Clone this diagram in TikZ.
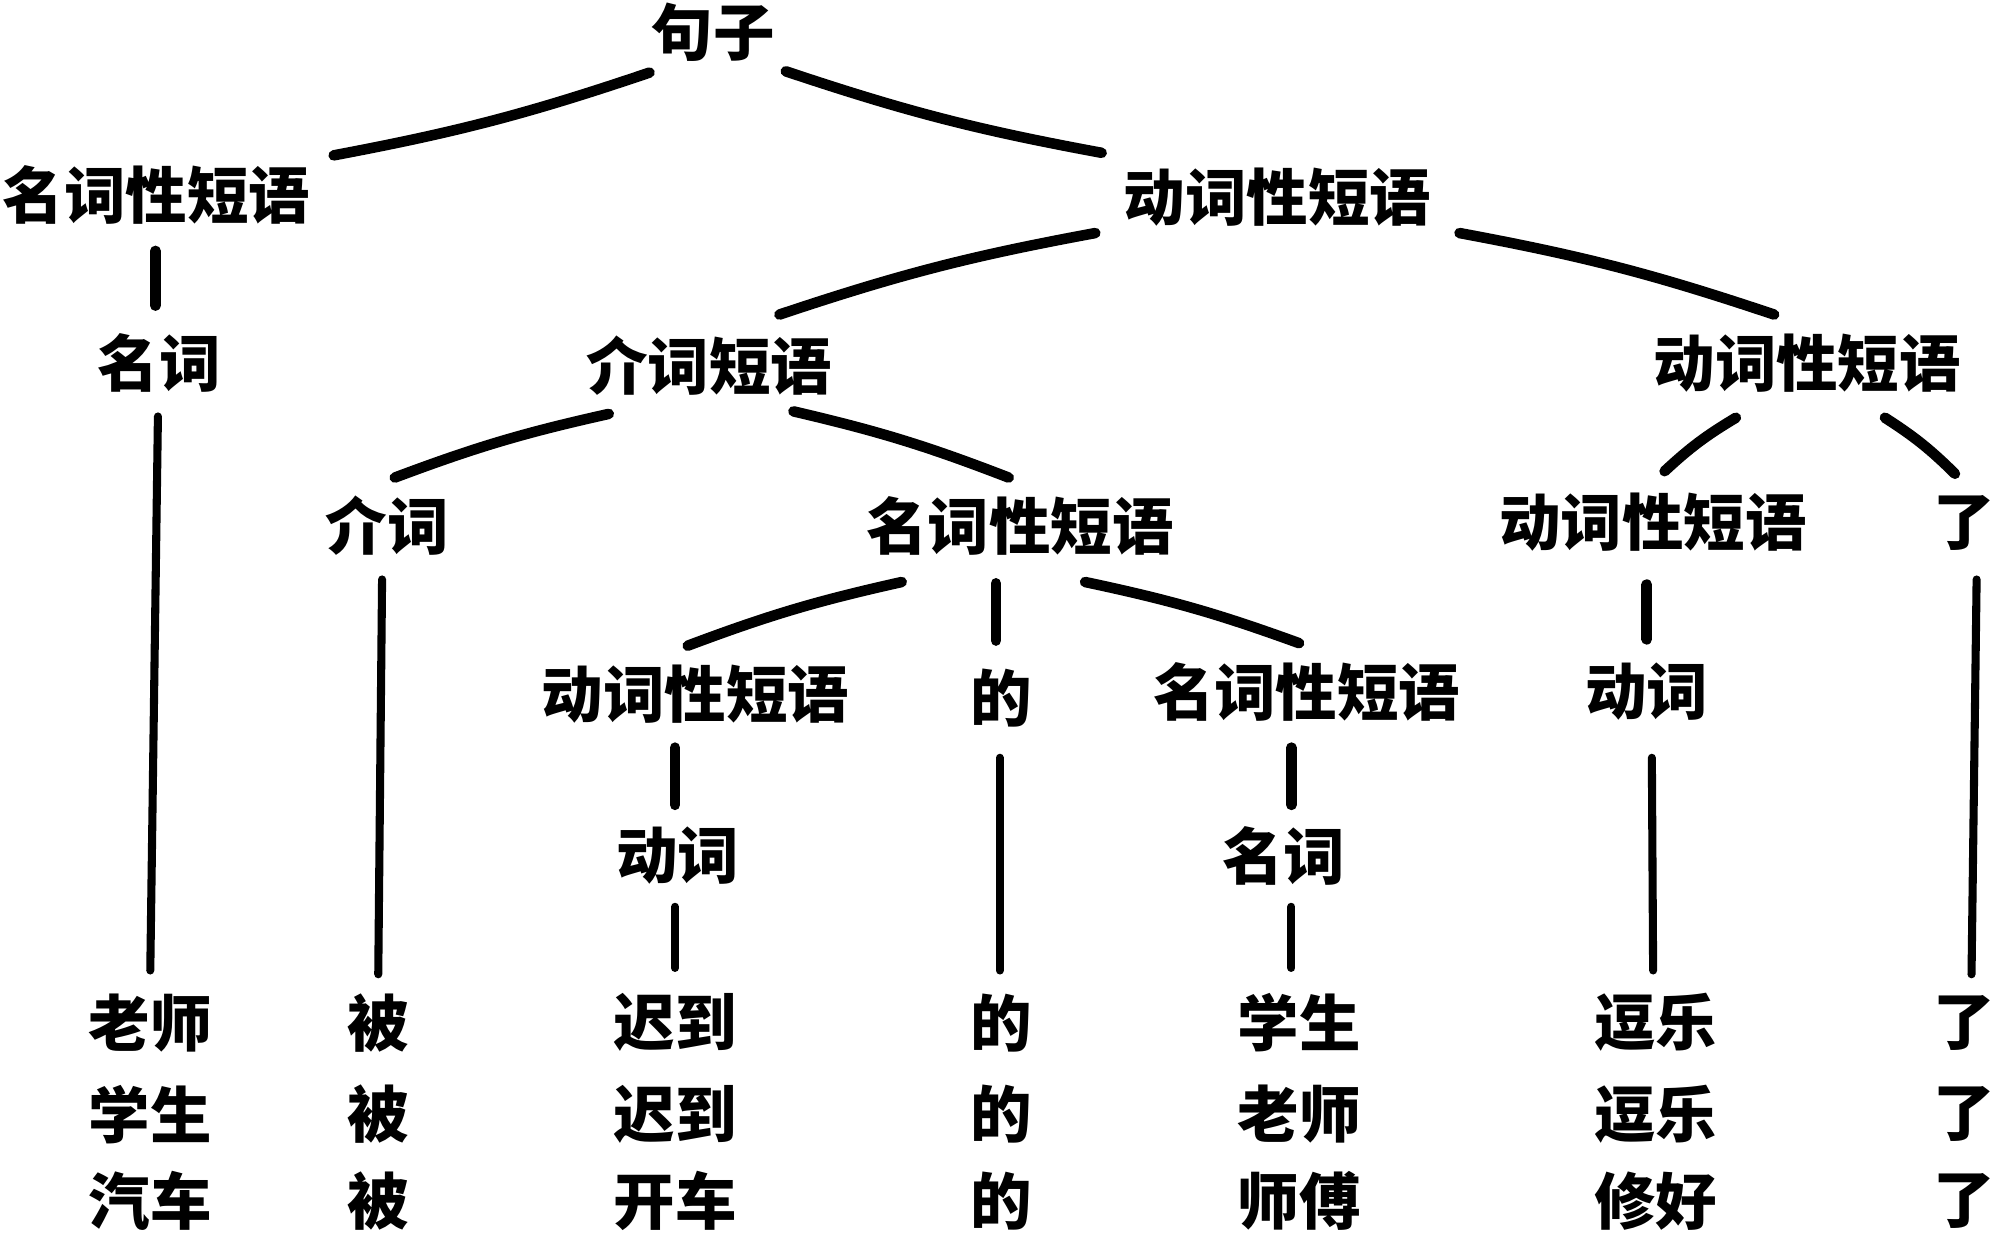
\documentclass[tikz,border=0pt]{standalone}
\usepackage{fontspec}
\setmainfont{Noto Sans CJK SC}
\usetikzlibrary{calc}
\begin{document}
\begin{tikzpicture}[x=0.012736cm,y=-0.012736cm,
  lab/.style={font=\fontsize{17.5}{20}\selectfont\bfseries, inner sep=0pt},
  br/.style={line width=3pt, line cap=round},
  vt/.style={line width=2.3pt, line cap=round}]
\useasboundingbox[fill=white] (0,0) rectangle (1568,973);
% internal nodes
\node[lab] (s)   at (560,25)  {句子};
\node[lab] (np1) at (123,153) {名词性短语};
\node[lab] (vp1) at (1003,155) {动词性短语};
\node[lab] (n1)  at (125,285) {名词};
\node[lab] (pp)  at (557,287) {介词短语};
\node[lab] (vp2) at (1419,285) {动词性短语};
\node[lab] (p)   at (304,413) {介词};
\node[lab] (np2) at (801,413) {名词性短语};
\node[lab] (vp3) at (1298,410) {动词性短语};
\node[lab] (le)  at (1542,411) {了};
\node[lab] (vp4) at (546,545) {动词性短语};
\node[lab] (de)  at (786,548) {的};
\node[lab] (np3) at (1026,543) {名词性短语};
\node[lab] (v1)  at (1293,543) {动词};
\node[lab] (v2)  at (532,672) {动词};
\node[lab] (n2)  at (1008,672) {名词};
% leaves
\node[lab] (a1) at (118,803) {老师};
\node[lab] (a2) at (118,875) {学生};
\node[lab] (a3) at (118,943) {汽车};
\node[lab] (b1) at (297,803) {被};
\node[lab] (b2) at (297,875) {被};
\node[lab] (b3) at (297,943) {被};
\node[lab] (c1) at (530,803) {迟到};
\node[lab] (c2) at (530,875) {迟到};
\node[lab] (c3) at (530,943) {开车};
\node[lab] (d1) at (786,803) {的};
\node[lab] (d2) at (786,875) {的};
\node[lab] (d3) at (786,943) {的};
\node[lab] (e1) at (1020,803) {学生};
\node[lab] (e2) at (1020,875) {老师};
\node[lab] (e3) at (1020,943) {师傅};
\node[lab] (f1) at (1300,803) {逗乐};
\node[lab] (f2) at (1300,875) {逗乐};
\node[lab] (f3) at (1300,943) {修好};
\node[lab] (g1) at (1542,803) {了};
\node[lab] (g2) at (1542,875) {了};
\node[lab] (g3) at (1542,943) {了};
% edges
\draw[br] ($(s)+(-50,32)$) to[bend left=4] ($(np1)+(139,-31)$);
\draw[br] ($(s)+(57,31)$) to[bend right=4] ($(vp1)+(-138,-35)$);
\draw[br] ($(np1)+(-1,44)$) -- ($(n1)+(-3,-45)$);
\draw[br] ($(vp1)+(-143,28)$) to[bend right=4] ($(pp)+(55,-40)$);
\draw[br] ($(vp1)+(143,28)$) to[bend left=4] ($(vp2)+(-26,-38)$);
\draw[vt] ($(n1)+(-1,42)$) -- ($(a1)+(0,-41)$);
\draw[br] ($(pp)+(-79,38)$) to[bend right=4] ($(p)+(6,-38)$);
\draw[br] ($(pp)+(66,36)$) to[bend left=4] ($(np2)+(-9,-38)$);
\draw[br] ($(vp2)+(-56,43)$) to[bend right=6] ($(vp3)+(9,-40)$);
\draw[br] ($(vp2)+(61,43)$) to[bend left=6] ($(le)+(-7,-39)$);
\draw[vt] ($(p)+(-4,42)$) -- ($(b1)+(0,-38)$);
\draw[br] ($(np2)+(-93,44)$) to[bend right=4] ($(vp4)+(-6,-38)$);
\draw[br] ($(np2)+(-19,45)$) -- ($(de)+(-4,-45)$);
\draw[br] ($(np2)+(51,44)$) to[bend left=4] ($(np3)+(-6,-38)$);
\draw[br] ($(vp3)+(-5,49)$) -- ($(v1)+(0,-41)$);
\draw[vt] ($(le)+(10,44)$) -- ($(g1)+(6,-38)$);
\draw[br] ($(vp4)+(-16,42)$) -- ($(v2)+(-2,-40)$);
\draw[vt] ($(de)+(-1,47)$) -- ($(d1)+(-1,-41)$);
\draw[br] ($(np3)+(-12,44)$) -- ($(n2)+(6,-40)$);
\draw[vt] ($(v1)+(4,52)$) -- ($(f1)+(-2,-41)$);
\draw[vt] ($(v2)+(-2,40)$) -- ($(c1)+(0,-43)$);
\draw[vt] ($(n2)+(6,40)$) -- ($(e1)+(-6,-43)$);
\end{tikzpicture}
\end{document}
